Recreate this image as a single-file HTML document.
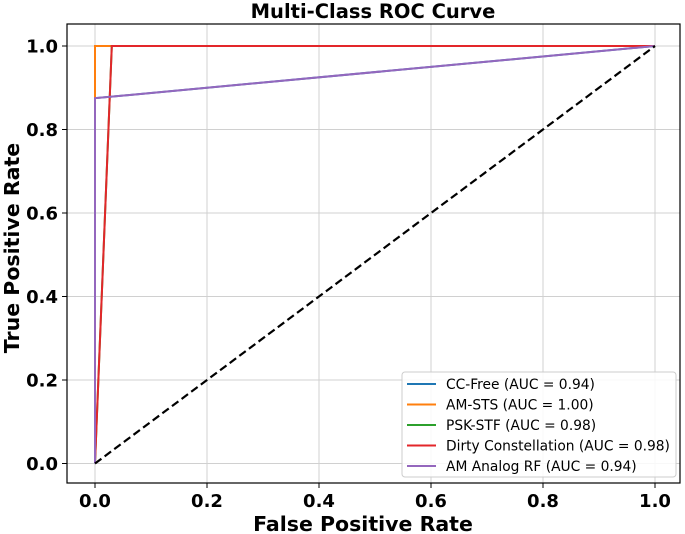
<!DOCTYPE html>
<html><head><meta charset="utf-8"><style>
body{margin:0;background:#fff;}
svg{display:block;font-family:"DejaVu Sans","Liberation Sans",sans-serif;}
</style></head><body>
<svg id="chart" width="685" height="534">
<text x="373" y="18" text-anchor="middle" font-size="19.5" font-weight="bold">Multi-Class ROC Curve</text>
<g id="grid"></g>
<g id="ticks"></g>
<g id="series"></g>
<rect x="67" y="24" width="613" height="459" fill="none" stroke="#000" stroke-width="1.2"/>
<text x="363" y="531" text-anchor="middle" font-size="20.5" font-weight="bold">False Positive Rate</text>
<text transform="translate(19,248) rotate(-90)" text-anchor="middle" font-size="20.5" font-weight="bold">True Positive Rate</text>
<g id="legend"></g>
</svg>
<script>
const ticks=[0,0.2,0.4,0.6,0.8,1.0];
const tickLabels=["0.0","0.2","0.4","0.6","0.8","1.0"];
const seriesNames=["CC-Free (AUC = 0.94)","AM-STS (AUC = 1.00)","PSK-STF (AUC = 0.98)","Dirty Constellation (AUC = 0.98)","AM Analog RF (AUC = 0.94)"];
const seriesColors=["#1f77b4","#ff7f0e","#2ca02c","#e3262a","#9467bd"];
const fprCC=[0,0,1], tprCC=[0,0.875,1];
const fprAM=[0,0,1], tprAM=[0,1,1];
const fprPSK=[0,0.03,1], tprPSK=[0,1,1];
const fprDirty=[0,0.03,1], tprDirty=[0,1,1];
const fprRF=[0,0,1], tprRF=[0,0.875,1];
const fprs=[fprCC,fprAM,fprPSK,fprDirty,fprRF];
const tprs=[tprCC,tprAM,tprPSK,tprDirty,tprRF];
const NS="http://www.w3.org/2000/svg";
const X=v=>95+v*560, Y=v=>463.5-v*417.5;
function mk(t,a,p){const e=document.createElementNS(NS,t);for(const k in a)e.setAttribute(k,a[k]);p.appendChild(e);return e;}
const grid=document.getElementById('grid'),tk=document.getElementById('ticks'),ser=document.getElementById('series'),lg=document.getElementById('legend');
ticks.forEach((t,i)=>{
 let g=mk('line',{x1:X(t),x2:X(t),y1:24,y2:483,stroke:'#d0d0d0','stroke-width':1},grid);
 
 
 g=mk('line',{x1:67,x2:680,y1:Y(t),y2:Y(t),stroke:'#d0d0d0','stroke-width':1},grid);
 
 
 mk('line',{x1:X(t),x2:X(t),y1:483,y2:488,stroke:'#000'},tk);
 mk('line',{x1:62,x2:67,y1:Y(t),y2:Y(t),stroke:'#000'},tk);
 let l=mk('text',{x:X(t),y:507,'text-anchor':'middle','font-size':18,'font-weight':'bold'},tk);l.textContent=tickLabels[i];
 
 
 l=mk('text',{x:58,y:Y(t)+6.5,'text-anchor':'end','font-size':18,'font-weight':'bold'},tk);l.textContent=tickLabels[i];
 
 
});
fprs.forEach((f,i)=>{
 const p=mk('polyline',{points:f.map((v,j)=>X(v)+','+Y(tprs[i][j])).join(' '),fill:'none',stroke:seriesColors[i],'stroke-width':2},ser);
 
 
});
const d=mk('line',{x1:X(0),y1:Y(0),x2:X(1),y2:Y(1),stroke:'#000','stroke-width':2.2,'stroke-dasharray':'8,4'},ser);


mk('rect',{x:402,y:372,width:274,height:105,rx:3,fill:'#fff','fill-opacity':0.85,stroke:'#ccc'},lg);
seriesNames.forEach((n,i)=>{
 const y=384+i*20.5;
 const e=mk('line',{x1:407,x2:436,y1:y,y2:y,stroke:seriesColors[i],'stroke-width':2},lg);
 
 
 const t=mk('text',{x:446,y:y+5,'font-size':13.8},lg);t.textContent=n;
 
 
});
</script>
</body></html>
